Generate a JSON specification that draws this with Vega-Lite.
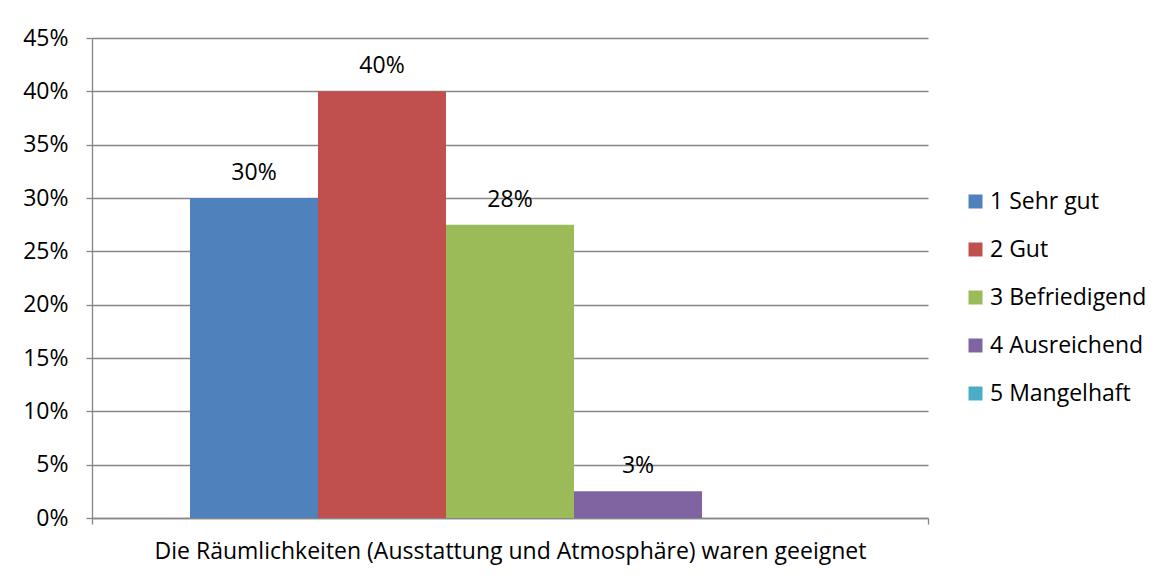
{
  "$schema": "https://vega.github.io/schema/vega-lite/v6.json",
  "width": 836,
  "height": 480,
  "autosize": "none",
  "padding": {"left": 92, "top": 38, "right": 234, "bottom": 59},
  "background": "white",
  "config": {
    "view": {"stroke": null},
    "font": "Open Sans",
    "axis": {"labelFont": "Open Sans", "labelColor": "#000000", "labelFontSize": 23, "domainColor": "#868686", "tickColor": "#868686", "gridColor": "#868686", "domainWidth": 1.3, "tickWidth": 1.3, "gridWidth": 1.3, "tickSize": 6},
    "legend": {"labelFont": "Open Sans", "labelColor": "#000000", "labelFontSize": 23}
  },
  "data": {
    "values": [
      {"frage": "Die Räumlichkeiten (Ausstattung und Atmosphäre) waren geeignet", "note": "1 Sehr gut", "anteil": 0.30},
      {"frage": "Die Räumlichkeiten (Ausstattung und Atmosphäre) waren geeignet", "note": "2 Gut", "anteil": 0.40},
      {"frage": "Die Räumlichkeiten (Ausstattung und Atmosphäre) waren geeignet", "note": "3 Befriedigend", "anteil": 0.275},
      {"frage": "Die Räumlichkeiten (Ausstattung und Atmosphäre) waren geeignet", "note": "4 Ausreichend", "anteil": 0.025},
      {"frage": "Die Räumlichkeiten (Ausstattung und Atmosphäre) waren geeignet", "note": "5 Mangelhaft", "anteil": 0.0}
    ]
  },
  "encoding": {
    "x": {
      "field": "frage", "type": "nominal",
      "scale": {"paddingInner": 0, "paddingOuter": 0},
      "axis": {"title": null, "tickBand": "extent", "labelAngle": 0, "labelLimit": 2000, "labelPadding": 16, "domain": true, "ticks": true, "grid": false}
    },
    "xOffset": {
      "field": "note", "type": "nominal",
      "scale": {"paddingInner": 0, "paddingOuter": 0.7656}
    },
    "y": {
      "field": "anteil", "type": "quantitative",
      "scale": {"domain": [0, 0.45], "nice": false},
      "axis": {"title": null, "format": ".0%", "values": [0, 0.05, 0.1, 0.15, 0.2, 0.25, 0.3, 0.35, 0.4, 0.45], "grid": true, "labelPadding": 18, "domain": true}
    }
  },
  "layer": [
    {
      "mark": {"type": "bar"},
      "encoding": {
        "color": {
          "field": "note", "type": "nominal",
          "scale": {"domain": ["1 Sehr gut", "2 Gut", "3 Befriedigend", "4 Ausreichend", "5 Mangelhaft"], "range": ["#4F81BD", "#C0504D", "#9BBB59", "#8064A2", "#4BACC6"]},
          "legend": {"title": null, "orient": "none", "legendX": 872, "legendY": 152, "symbolType": "square", "symbolSize": 196, "symbolStrokeWidth": 0, "rowPadding": 24, "labelOffset": 3}
        }
      }
    },
    {
      "transform": [{"filter": "datum.anteil > 0"}],
      "mark": {"type": "text", "baseline": "middle", "dy": -25, "fontSize": 23, "color": "#000000", "font": "Open Sans"},
      "encoding": {
        "text": {"field": "anteil", "type": "quantitative", "format": ".0%"}
      }
    }
  ]
}
